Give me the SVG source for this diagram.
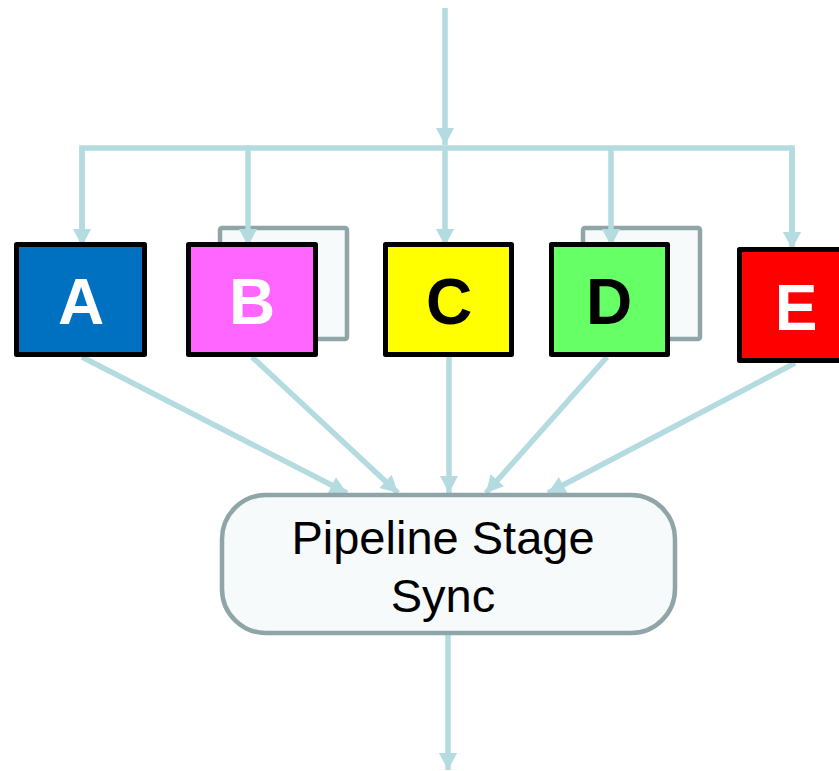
<svg xmlns="http://www.w3.org/2000/svg" width="839" height="771" viewBox="0 0 839 771">
<style>
.conn{fill:none;stroke:#b4dbe0;stroke-width:5.5}
.box{stroke:#000;stroke-width:5;stroke-linejoin:round}
.shadow{fill:#f7fafb;stroke:#8fa5a8;stroke-width:4.5}
.lbl{font-family:"Liberation Sans",Arial,sans-serif;font-weight:bold;font-size:64px;text-anchor:middle}
.sync{font-family:"Liberation Sans",Arial,sans-serif;font-size:47px;text-anchor:middle;fill:#000}
</style>
<defs>
<marker id="ah" markerUnits="userSpaceOnUse" markerWidth="20" markerHeight="20" viewBox="0 0 20 20" refX="18" refY="10" orient="auto">
<path d="M1,1 L18,10 L1,19 Z" fill="#b4dbe0"/>
</marker>
</defs>
<rect width="839" height="771" fill="#fff"/>
<g id="shadows">
<rect class="shadow" x="220" y="228" width="127" height="111" rx="2"/>
<rect class="shadow" x="583" y="228" width="117" height="111" rx="2"/>
</g>
<g id="connectors">
<line class="conn" x1="445" y1="8" x2="445" y2="145" marker-end="url(#ah)"/>
<polyline class="conn" points="82,244 82,148 792,148 792,246"/>
<line class="conn" x1="82" y1="148" x2="82" y2="246" marker-end="url(#ah)"/>
<line class="conn" x1="248" y1="148" x2="248" y2="246" marker-end="url(#ah)"/>
<line class="conn" x1="445" y1="148" x2="445" y2="246" marker-end="url(#ah)"/>
<line class="conn" x1="611" y1="148" x2="611" y2="246" marker-end="url(#ah)"/>
<line class="conn" x1="792" y1="148" x2="792" y2="249" marker-end="url(#ah)"/>
<line class="conn" x1="82" y1="357" x2="347" y2="493" marker-end="url(#ah)"/>
<line class="conn" x1="252" y1="357" x2="398" y2="493" marker-end="url(#ah)"/>
<line class="conn" x1="449" y1="357" x2="449" y2="493" marker-end="url(#ah)"/>
<line class="conn" x1="607" y1="357" x2="486" y2="493" marker-end="url(#ah)"/>
<line class="conn" x1="795" y1="363" x2="548" y2="493" marker-end="url(#ah)"/>
<line class="conn" x1="448" y1="635" x2="448" y2="770" marker-end="url(#ah)"/>
</g>
<g id="nodeA">
<rect class="box" x="16.5" y="244.5" width="128" height="110" fill="#0070c0"/>
<text class="lbl" x="81" y="324" fill="#fff">A</text>
</g>
<g id="nodeB">
<rect class="box" x="188.5" y="244.5" width="127" height="110" fill="#ff66ff"/>
<text class="lbl" x="252" y="324" fill="#fff">B</text>
</g>
<g id="nodeC">
<rect class="box" x="385.5" y="244.5" width="126" height="110" fill="#ffff00"/>
<text class="lbl" x="449" y="324" fill="#000">C</text>
</g>
<g id="nodeD">
<rect class="box" x="551.5" y="244.5" width="116" height="110" fill="#66ff66"/>
<text class="lbl" x="609" y="324" fill="#000">D</text>
</g>
<g id="nodeE">
<rect class="box" x="739.5" y="249.5" width="130" height="111" fill="#ff0000"/>
<text class="lbl" x="796" y="330" fill="#fff">E</text>
</g>
<g id="sync">
<rect x="222" y="495" width="453" height="138" rx="44" fill="#f7fafb" stroke="#8fa5a8" stroke-width="4.5"/>
<text class="sync" x="443" y="554">Pipeline Stage</text>
<text class="sync" x="443" y="612">Sync</text>
</g>
</svg>
